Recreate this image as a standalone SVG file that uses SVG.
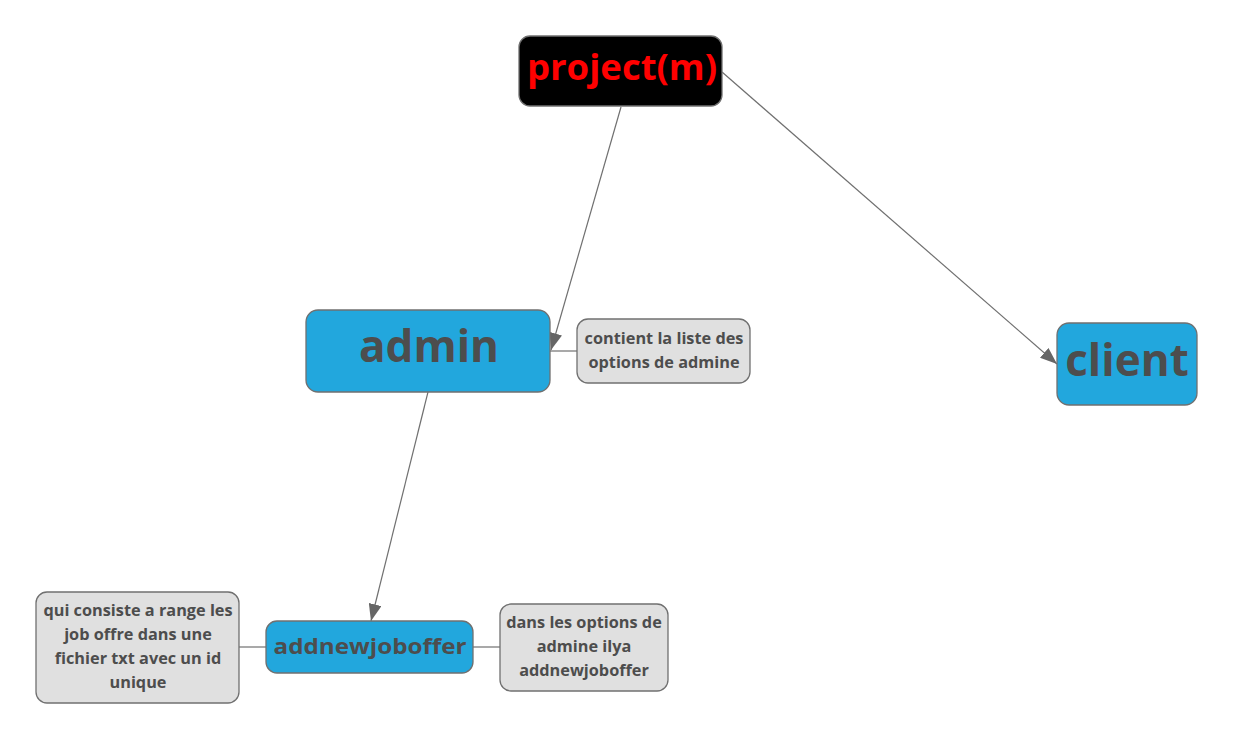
<svg xmlns="http://www.w3.org/2000/svg" width="1234" height="741" viewBox="0 0 1234 741">
<style>
.main{fill:#22a7dd;stroke:#707070;stroke-width:1.3}
.note{fill:#e0e0e0;stroke:#707070;stroke-width:1.3}
.t{font-family:"Open Sans","DejaVu Sans",sans-serif;font-weight:bold;fill:#4d4d4d;text-anchor:middle}
.n{font-size:16.3px}
.c{stroke:#707070;stroke-width:1.2;fill:none}
</style>
<defs>
<marker id="ah" viewBox="0 0 17 13" refX="17" refY="6.5" markerWidth="17" markerHeight="13" markerUnits="userSpaceOnUse" orient="auto">
<path d="M0,0 L17,6.5 L0,13 Z" fill="#666"/>
</marker>
</defs>
<rect width="1234" height="741" fill="#fff"/>
<g id="connectors">
<line class="c" x1="621" y1="107" x2="551" y2="350" marker-end="url(#ah)"/>
<line class="c" x1="722" y1="72" x2="1057" y2="364" marker-end="url(#ah)"/>
<line class="c" x1="428" y1="392" x2="371" y2="621" marker-end="url(#ah)"/>
<line class="c" x1="550" y1="351" x2="577" y2="351"/>
<line class="c" x1="239" y1="647" x2="266" y2="647"/>
<line class="c" x1="473" y1="647" x2="500" y2="647"/>
</g>
<g id="project">
<rect x="519" y="36" width="203" height="70" rx="11" fill="#000" stroke="#707070" stroke-width="1.3"/>
<text class="t" x="622" y="80" font-size="36.5" style="fill:#ff0000">project(m)</text>
</g>
<g id="admin">
<rect class="main" x="306" y="310" width="244" height="82" rx="12"/>
<text class="t" x="429" y="362" font-size="44">admin</text>
</g>
<g id="client">
<rect class="main" x="1057" y="323" width="140" height="82" rx="12"/>
<text class="t" x="1127" y="376" font-size="44">client</text>
</g>
<g id="addnewjoboffer">
<rect class="main" x="266" y="621" width="207" height="52" rx="11"/>
<text class="t" x="370" y="654" font-size="22" textLength="193" lengthAdjust="spacingAndGlyphs">addnewjoboffer</text>
</g>
<g id="note-admin">
<rect class="note" x="577" y="319" width="173" height="64" rx="11"/>
<text class="t n" x="664" y="344">contient la liste des</text>
<text class="t n" x="664" y="368">options de admine</text>
</g>
<g id="note-left">
<rect class="note" x="36" y="592" width="203" height="111" rx="11"/>
<text class="t n" x="138" y="616">qui consiste a range les</text>
<text class="t n" x="138" y="640">job offre dans une</text>
<text class="t n" x="138" y="664">fichier txt avec un id</text>
<text class="t n" x="138" y="688">unique</text>
</g>
<g id="note-right">
<rect class="note" x="500" y="604" width="168" height="87" rx="11"/>
<text class="t n" x="584" y="628">dans les options de</text>
<text class="t n" x="584" y="652">admine ilya</text>
<text class="t n" x="584" y="676">addnewjoboffer</text>
</g>
</svg>
